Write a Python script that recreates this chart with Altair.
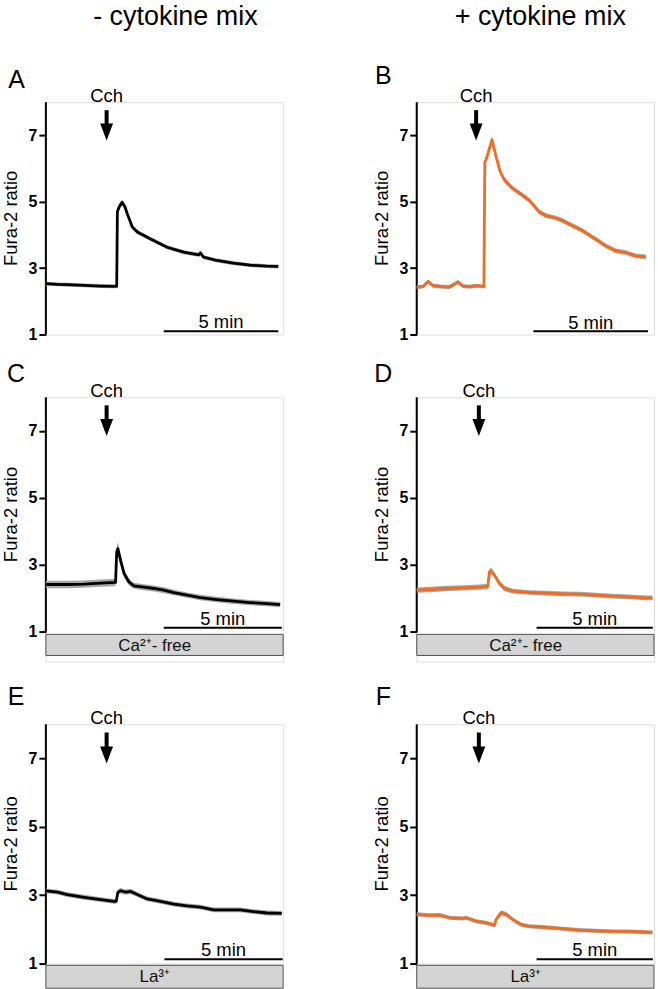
import altair as alt
import pandas as pd

# ---------------- data (time in min, Fura-2 ratio, SEM) ----------------
a_t = [0, 0.51, 0.94, 1.67, 2.39, 3.04, 3.09, 3.12, 3.20, 3.33, 3.45, 3.55, 3.77, 3.99, 4.57, 5.29, 6.01, 6.67, 6.74, 6.88, 7.46, 8.19, 8.91, 9.64, 10.14]
a_v = [2.53, 2.51, 2.50, 2.48, 2.46, 2.45, 2.45, 4.70, 4.85, 4.98, 4.85, 4.64, 4.24, 4.09, 3.88, 3.63, 3.48, 3.40, 3.46, 3.33, 3.23, 3.15, 3.09, 3.06, 3.05]
a_s = [0.06, 0.06, 0.06, 0.06, 0.06, 0.06, 0.06, 0.08, 0.09, 0.09, 0.08, 0.07, 0.07, 0.07, 0.06, 0.06, 0.06, 0.06, 0.06, 0.06, 0.06, 0.06, 0.06, 0.06, 0.06]

b_t = [0, 0.28, 0.49, 0.71, 1.14, 1.43, 1.80, 2.01, 2.30, 2.59, 2.88, 2.93, 2.97, 3.03, 3.28, 3.46, 3.64, 3.83, 4.19, 4.62, 4.91, 5.35, 5.64, 6.07, 6.36, 6.80, 7.23, 7.81, 8.25, 8.68, 9.12, 9.55, 9.99]
b_v = [2.42, 2.45, 2.60, 2.47, 2.44, 2.43, 2.58, 2.46, 2.44, 2.47, 2.45, 2.44, 6.20, 6.27, 6.87, 6.36, 5.90, 5.65, 5.40, 5.19, 5.04, 4.69, 4.58, 4.51, 4.43, 4.28, 4.13, 3.87, 3.67, 3.52, 3.47, 3.37, 3.34]
b_s = [0.06, 0.06, 0.06, 0.06, 0.06, 0.06, 0.06, 0.06, 0.06, 0.06, 0.06, 0.06, 0.07, 0.07, 0.08, 0.08, 0.08, 0.08, 0.07, 0.07, 0.07, 0.07, 0.07, 0.07, 0.07, 0.07, 0.07, 0.07, 0.07, 0.07, 0.07, 0.07, 0.07]

c_t = [0, 0.94, 1.67, 2.39, 3.04, 3.09, 3.14, 3.26, 3.41, 3.62, 3.84, 4.28, 4.71, 5.14, 5.58, 6.16, 6.74, 7.46, 8.19, 8.91, 9.64, 10.22]
c_v = [2.41, 2.41, 2.42, 2.45, 2.47, 3.38, 3.48, 3.13, 2.74, 2.49, 2.37, 2.33, 2.29, 2.24, 2.17, 2.09, 2.02, 1.96, 1.91, 1.87, 1.84, 1.81]
c_s = [0.11, 0.11, 0.11, 0.11, 0.11, 0.18, 0.20, 0.15, 0.12, 0.10, 0.09, 0.09, 0.09, 0.09, 0.08, 0.08, 0.08, 0.08, 0.08, 0.08, 0.08, 0.08]

d_t = [0, 0.57, 1.29, 2.01, 2.74, 3.10, 3.17, 3.25, 3.39, 3.61, 3.83, 4.19, 4.91, 5.64, 6.36, 7.09, 7.81, 8.54, 9.26, 9.99, 10.28]
d_v = [2.24, 2.26, 2.29, 2.31, 2.33, 2.35, 2.79, 2.81, 2.69, 2.44, 2.29, 2.21, 2.17, 2.15, 2.13, 2.12, 2.09, 2.06, 2.04, 2.01, 2.01]
d_s = [0.08, 0.08, 0.08, 0.08, 0.08, 0.08, 0.09, 0.09, 0.08, 0.08, 0.08, 0.07, 0.07, 0.07, 0.07, 0.07, 0.07, 0.07, 0.07, 0.07, 0.07]

e_t = [0, 0.51, 0.94, 1.67, 2.39, 2.97, 3.07, 3.14, 3.26, 3.48, 3.70, 3.99, 4.42, 5.00, 5.58, 6.16, 6.74, 7.32, 7.90, 8.48, 9.06, 9.64, 10.29]
e_v = [3.13, 3.09, 3.02, 2.94, 2.87, 2.82, 2.82, 3.09, 3.13, 3.09, 3.11, 3.02, 2.89, 2.82, 2.74, 2.69, 2.65, 2.57, 2.57, 2.57, 2.52, 2.48, 2.47]
e_s = [0.07, 0.07, 0.07, 0.07, 0.07, 0.07, 0.07, 0.08, 0.08, 0.08, 0.08, 0.07, 0.07, 0.07, 0.07, 0.07, 0.07, 0.07, 0.07, 0.07, 0.07, 0.07, 0.07]

f_t = [0, 0.57, 1.00, 1.43, 2.01, 2.16, 2.59, 3.03, 3.39, 3.46, 3.68, 3.90, 4.19, 4.55, 4.91, 5.64, 6.36, 7.09, 7.81, 8.54, 9.26, 10.28]
f_v = [2.44, 2.41, 2.42, 2.34, 2.32, 2.34, 2.24, 2.19, 2.12, 2.29, 2.49, 2.44, 2.29, 2.14, 2.09, 2.06, 2.02, 1.98, 1.96, 1.94, 1.94, 1.91]
f_s = [0.06, 0.06, 0.06, 0.06, 0.06, 0.06, 0.06, 0.06, 0.06, 0.06, 0.07, 0.07, 0.06, 0.06, 0.06, 0.06, 0.06, 0.06, 0.06, 0.06, 0.06, 0.06]

headers = ["- cytokine mix", "+ cytokine mix"]
letters = ["A", "B", "C", "D", "E", "F"]
cch_label = "Cch"
scale_label = "5 min"
box_labels = ["Ca²⁺- free", "La³⁺"]
y_title = "Fura-2 ratio"
y_ticks = [1, 3, 5, 7]

FONT = "Liberation Sans"
BLACK = "#000000"
ORANGE = "#f26b21"
BAND = "#9c9c9c"

XS = alt.Scale(domain=[0, 10.35], nice=False, zero=False)


def make_yaxis():
    return alt.Axis(values=y_ticks, title=None, grid=False, domain=False, tickSize=7, tickWidth=2,
                    tickColor=BLACK, labelFontWeight="bold", labelFontSize=16, labelColor=BLACK,
                    labelPadding=2, labelFlush=False, labelFont=FONT)


def panel(t, v, s, color, arrow_t, letter, letter_pos, height, ymin, bar, header=None, box=None):
    YS = alt.Scale(domain=[ymin, 8], nice=False, zero=False)
    YAX = make_yaxis()

    def xd(val):
        return alt.XDatum(val, type="quantitative", scale=XS, axis=None)

    def yd(val):
        return alt.YDatum(val, type="quantitative", scale=YS, axis=YAX)

    df = pd.DataFrame({"t": t, "v": v, "s": s})
    df["lo"] = df["v"] - df["s"]
    df["hi"] = df["v"] + df["s"]
    base = alt.Chart(df)
    band = base.mark_area(color=BAND, opacity=0.9).encode(
        x=alt.X("t:Q", scale=XS, axis=None),
        y=alt.Y("lo:Q", scale=YS, axis=YAX),
        y2="hi:Q",
    )
    line = base.mark_line(color=color, strokeWidth=2.8, strokeJoin="round").encode(
        x=alt.X("t:Q", scale=XS, axis=None),
        y=alt.Y("v:Q", scale=YS, axis=YAX),
    )
    layers = []
    # axis line from 1 to 8
    layers.append(alt.Chart().mark_rule(color=BLACK, strokeWidth=2).encode(
        x=xd(0), y=yd(1), y2=alt.datum(8)))
    layers += [band, line]
    # y title
    layers.append(alt.Chart().mark_text(text=y_title, fontSize=18.5, font=FONT, color=BLACK,
                                        angle=270, baseline="middle", align="center").encode(
        x=xd(-1.52), y=yd(4.5)))
    # arrow
    layers.append(alt.Chart().mark_rule(color=BLACK, strokeWidth=4).encode(
        x=xd(arrow_t), y=yd(7.76), y2=alt.datum(7.2)))
    layers.append(alt.Chart().mark_point(shape="M-0.76,-1L0.76,-1L0,1Z", size=289, filled=True,
                                         color=BLACK, opacity=1, strokeWidth=0).encode(
        x=xd(arrow_t), y=yd(7.10)))
    layers.append(alt.Chart().mark_text(text=cch_label, fontSize=18.5, font=FONT, color=BLACK,
                                        baseline="middle").encode(x=xd(arrow_t), y=yd(8.18)))
    # scale bar
    t0, t1, vb, vt = bar
    layers.append(alt.Chart().mark_rule(color=BLACK, strokeWidth=2).encode(
        x=xd(t0), x2=alt.datum(t1), y=yd(vb)))
    layers.append(alt.Chart().mark_text(text=scale_label, fontSize=18.5, font=FONT, color=BLACK,
                                        baseline="middle").encode(x=xd((t0 + t1) / 2), y=yd(vt)))
    # panel letter
    layers.append(alt.Chart().mark_text(text=letter, fontSize=25, font=FONT, color=BLACK,
                                        baseline="middle").encode(
        x=xd(letter_pos[0]), y=yd(letter_pos[1])))
    if header is not None:
        layers.append(alt.Chart().mark_text(text=header[0], fontSize=27, font=FONT, color=BLACK,
                                            baseline="middle").encode(
            x=xd(header[1]), y=yd(header[2])))
    if box is not None:
        label, y_top, y_bot, lab_t, lab_v = box
        layers.append(alt.Chart().mark_rect(fill="#d4d4d4", stroke="#505050", strokeWidth=1).encode(
            x=xd(0), x2=alt.datum(10.35), y=yd(y_top), y2=alt.datum(y_bot)))
        layers.append(alt.Chart().mark_text(text=label, fontSize=17, font=FONT, color="#111111",
                                            baseline="middle").encode(x=xd(lab_t), y=yd(lab_v)))
    return alt.layer(*layers).properties(width=238, height=height)


# row 1: 1..8 over 233 px; row 2: 0.11..8 over 265 px (box inside); row 3: 1..8 over 240 px
A = panel(a_t, a_v, a_s, BLACK, 2.65, letters[0], (-1.28, 8.67), 233, 1, (5.14, 10.14, 1.10, 1.37),
          header=(headers[0], 5.65, 10.57))
B = panel(b_t, b_v, b_s, ORANGE, 2.59, letters[1], (-1.46, 8.80), 233, 1, (5.09, 10.09, 1.10, 1.35),
          header=(headers[1], 5.39, 10.57))
C = panel(c_t, c_v, c_s, BLACK, 2.65, letters[2], (-1.30, 8.70), 265, 0.11, (5.14, 10.29, 1.12, 1.38),
          box=(box_labels[0], 0.92, 0.29, 4.75, 0.57))
D = panel(d_t, d_v, d_s, ORANGE, 2.71, letters[3], (-1.46, 8.70), 265, 0.11, (5.23, 10.30, 1.12, 1.38),
          box=(box_labels[0], 0.92, 0.29, 4.75, 0.57))
E = panel(e_t, e_v, e_s, BLACK, 2.65, letters[4], (-1.30, 8.80), 240, 1, (5.17, 10.33, 1.13, 1.39),
          box=(box_labels[1], 0.95, 0.28, 4.75, 0.60))
F = panel(f_t, f_v, f_s, ORANGE, 2.71, letters[5], (-1.46, 8.80), 240, 1, (5.23, 10.30, 1.13, 1.39),
          box=(box_labels[1], 0.95, 0.28, 4.75, 0.60))

chart = alt.concat(A, B, C, D, E, F, columns=2, spacing={"row": 63, "column": 134},
                   bounds="flush").properties(
    padding={"left": 1, "top": 0, "right": 3, "bottom": 0},
    background="white",
).configure_view(strokeWidth=0, stroke="transparent").configure(font=FONT)

chart.save("out.html", embed_options={"renderer": "svg", "actions": False})
